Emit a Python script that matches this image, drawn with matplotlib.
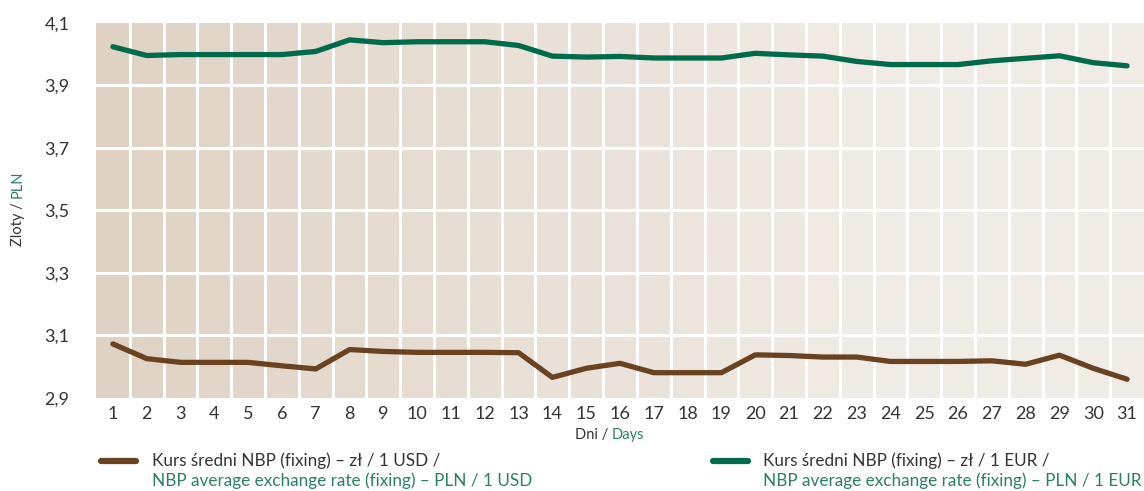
import matplotlib
matplotlib.use('Agg')
import matplotlib.pyplot as plt
from matplotlib.lines import Line2D
import numpy as np

days = list(range(1, 32))
usd = [3.073, 3.026, 3.014, 3.014, 3.014, 3.003, 2.993, 3.055, 3.049, 3.046,
       3.046, 3.046, 3.045, 2.966, 2.995, 3.011, 2.981, 2.981, 2.981, 3.038,
       3.036, 3.031, 3.031, 3.017, 3.017, 3.017, 3.019, 3.008, 3.037, 2.995,
       2.960]
eur = [4.024, 3.996, 3.999, 3.999, 3.999, 3.999, 4.009, 4.046, 4.037, 4.040,
       4.040, 4.040, 4.028, 3.994, 3.991, 3.993, 3.988, 3.988, 3.988, 4.003,
       3.998, 3.994, 3.977, 3.967, 3.967, 3.967, 3.979, 3.987, 3.995, 3.973,
       3.963]
yticks = [2.9, 3.1, 3.3, 3.5, 3.7, 3.9, 4.1]
ytick_labels = ['2,9', '3,1', '3,3', '3,5', '3,7', '3,9', '4,1']

brown = '#6b4220'
green = '#006b4b'
text_green = '#2a8062'
text_dark = '#333333'

plt.rcParams['font.family'] = ['Lato', 'DejaVu Sans']

fig = plt.figure(figsize=(11.44, 4.91), dpi=100)
ax = fig.add_axes([96 / 1144, 93 / 491, 1048 / 1144, 375 / 491])

# column background, darker on the left, lighter on the right
left_col = np.array([223, 210, 196]) / 255
right_col = np.array([240, 235, 229]) / 255
for i, d in enumerate(days):
    t = min(i / 23, 1.0)
    c = left_col + (right_col - left_col) * t
    ax.axvspan(d - 0.5, d + 0.5, color=c, lw=0, zorder=0)

for d in days[:-1]:
    ax.axvline(d + 0.5, color='white', lw=2.2, zorder=1)
for y in yticks[1:-1]:
    ax.axhline(y, color='white', lw=2.2, zorder=1)

ax.plot(days, usd, color=brown, lw=3.8, solid_capstyle='round', zorder=3)
ax.plot(days, eur, color=green, lw=3.8, solid_capstyle='round', zorder=3)

ax.set_xlim(0.5, 31.5)
ax.set_ylim(2.9, 4.1)
ax.set_xticks(days)
ax.set_xticklabels([str(d) for d in days])
ax.set_yticks(yticks)
ax.set_yticklabels(ytick_labels)
ax.tick_params(length=0, labelsize=13, labelcolor=text_dark)
ax.tick_params(axis='x', pad=6)
ax.tick_params(axis='y', pad=19)
for s in ax.spines.values():
    s.set_visible(False)

# axis titles with two colours
fig.text(612 / 1144, 56 / 491, 'Dni / ', ha='right', va='center', fontsize=10.5, color=text_dark)
fig.text(612 / 1144, 56 / 491, 'Days', ha='left', va='center', fontsize=10.5, color=text_green)
fig.text(18 / 1144, 293 / 491, 'Zloty / ', ha='center', va='top', rotation=90, fontsize=10.5, color=text_dark)
fig.text(18 / 1144, 293 / 491, 'PLN', ha='center', va='bottom', rotation=90, fontsize=10.5, color=text_green)

# legend
fig.add_artist(Line2D([101 / 1144, 136 / 1144], [30 / 491, 30 / 491], color=brown, lw=4.5,
                      solid_capstyle='round'))
fig.text(152 / 1144, 30 / 491, 'Kurs średni NBP (fixing) – zł / 1 USD /', ha='left', va='center',
         fontsize=12.3, color=text_dark)
fig.text(152 / 1144, 10 / 491, 'NBP average exchange rate (fixing) – PLN / 1 USD', ha='left', va='center',
         fontsize=12.3, color=text_green)
fig.add_artist(Line2D([713 / 1144, 748 / 1144], [30 / 491, 30 / 491], color=green, lw=4.5,
                      solid_capstyle='round'))
fig.text(763 / 1144, 30 / 491, 'Kurs średni NBP (fixing) – zł / 1 EUR /', ha='left', va='center',
         fontsize=12.3, color=text_dark)
fig.text(763 / 1144, 10 / 491, 'NBP average exchange rate (fixing) – PLN / 1 EUR', ha='left', va='center',
         fontsize=12.3, color=text_green)

fig.savefig('out.png', dpi=100)
